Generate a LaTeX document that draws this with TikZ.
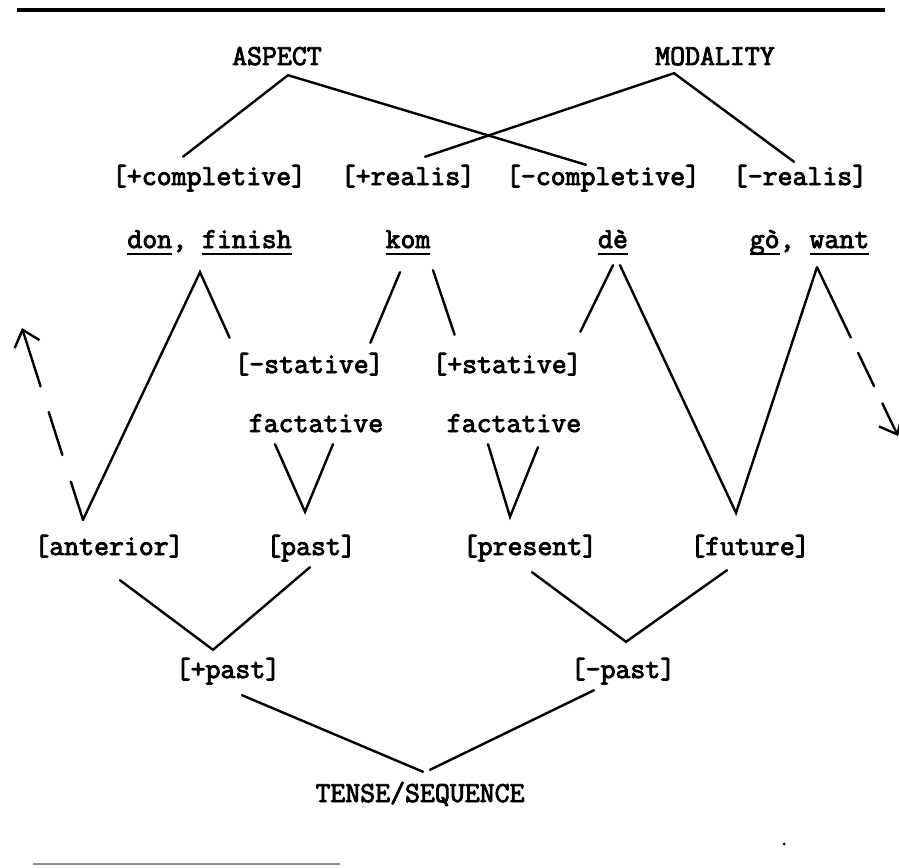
\documentclass[tikz,border=0pt]{standalone}
\usepackage{fontspec}
\usetikzlibrary{arrows.meta}
\newfontfamily\twfont[FakeBold=3]{Latin Modern Mono}
\newlength\ulwd
\newcommand\ulw[1]{\settowidth\ulwd{#1}\rlap{\rule[-7pt]{\ulwd}{2.2pt}}#1}
\tikzset{
  lbl/.style={font={\twfont\fontsize{29}{35}\selectfont}, inner sep=0pt,
    text height=28pt, text depth=12pt, anchor=base},
  link/.style={line width=2.4pt, line cap=round},
  swing/.style={link, -{Straight Barb[length=15pt,width=26pt,line width=2.4pt]}}
}
\begin{document}
\begin{tikzpicture}[x=1pt,y=-1pt]
    \useasboundingbox (0,0) rectangle (899,867);
    \draw[line width=3.5pt] (17,10) -- (885,10);
    \draw[line width=2pt, black!45] (33,864) -- (340,864);
    \fill (784,844) circle (1.5);

    % top
    \node[lbl] (aspect) at (277,65) {ASPECT};
    \node[lbl] (modality) at (715,65) {MODALITY};
    \node[lbl] (pcompl) at (209,185) {[+completive]};
    \node[lbl] (preal) at (408,185) {[+realis]};
    \node[lbl] (mcompl) at (603,185) {[-completive]};
    \node[lbl] (mreal) at (800,185) {[-realis]};
    % markers
    \node[lbl] (dfin) at (209.5,248) {\ulw{don}, \ulw{finish}};
    \node[lbl] (kom) at (408,248) {\ulw{kom}};
    \node[lbl] (de) at (613,248) {\ulw{dè}};
    \node[lbl] (gowant) at (809.5,248) {\ulw{gò}, \ulw{want}};
    \node[lbl] (mstat) at (309,373) {[-stative]};
    \node[lbl] (pstat) at (507,373) {[+stative]};
    \node[lbl] (fact1) at (316,432) {factative};
    \node[lbl] (fact2) at (514,432) {factative};
    % tense
    \node[lbl] (anter) at (109,555) {[anterior]};
    \node[lbl] (past) at (311,555) {[past]};
    \node[lbl] (present) at (530,555) {[present]};
    \node[lbl] (future) at (750,555) {[future]};
    \node[lbl] (ppast) at (228,678) {[+past]};
    \node[lbl] (mpast) at (623,678) {[-past]};
    \node[lbl] (tense) at (420,802) {TENSE/SEQUENCE};

    \coordinate (anter-t) at ([xshift=-26pt,yshift=7pt]anter.north);
    \coordinate (past-t) at ([xshift=-6pt,yshift=15pt]past.north);
    \coordinate (present-t) at ([xshift=-20pt,yshift=10pt]present.north);
    \coordinate (future-t) at ([xshift=-14pt,yshift=14pt]future.north);
    \coordinate (ppast-t) at ([xshift=-15pt]ppast.north);
    \coordinate (mpast-t) at ([xshift=3pt,yshift=8pt]mpast.north);
    \coordinate (end-l) at (22,328);
    \coordinate (end-r) at (898,436);

    \draw[link] ([xshift=-26pt]pcompl.north) -- ([xshift=11pt,yshift=2pt]aspect.south)
      -- ([xshift=-17pt,yshift=-8pt]mcompl.north);
    \draw[link] ([xshift=17pt]preal.north) -- ([xshift=-41pt,yshift=4pt]modality.south)
      -- ([xshift=-6pt,yshift=-5pt]mreal.north);

    \draw[link] (anter-t) -- ([xshift=-9.5pt,yshift=-12pt]dfin.south)
      -- ([xshift=-4.5pt,yshift=7pt]mstat.north west);
    \draw[link] ([xshift=-13.5pt,yshift=2pt]mstat.north east) -- ([xshift=-8pt,yshift=-12pt]kom.south);
    \draw[link] ([xshift=25pt,yshift=-10pt]kom.south) -- ([xshift=22.5pt,yshift=10pt]pstat.north west);
    \draw[link] ([xshift=-1.5pt,yshift=13pt]pstat.north east) -- ([yshift=-5pt]de.south);
    \draw[link] ([xshift=7pt,yshift=-5pt]de.south) -- (future-t)
      -- ([xshift=7.5pt,yshift=-7pt]gowant.south);
    \draw[swing, dash pattern=on 40pt off 28pt on 45pt off 27pt on 80pt] (anter-t) -- (end-l);
    \draw[swing, dash pattern=on 78pt off 17pt on 37pt off 19pt on 60pt]
      ([xshift=7.5pt,yshift=-7pt]gowant.south) -- (end-r);

    \draw[link] ([xshift=-41pt]fact1.south) -- (past-t) -- ([xshift=17pt]fact1.south);
    \draw[link] ([xshift=-26pt]fact2.south) -- (present-t) -- ([xshift=24pt,yshift=-3pt]fact2.south);

    \draw[link] ([xshift=11pt,yshift=-13pt]anter.south) -- (ppast-t) -- ([xshift=-1pt]past.south);
    \draw[link] ([xshift=2pt,yshift=-5pt]present.south) -- (mpast-t) -- ([xshift=-23pt,yshift=-3pt]future.south);
    \draw[link] ([xshift=14pt,yshift=-5pt]ppast.south) -- ([xshift=3pt,yshift=2pt]tense.north);
    \draw[link] ([xshift=-29pt]mpast.south) -- ([xshift=10pt,yshift=4pt]tense.north);
\end{tikzpicture}
\end{document}
